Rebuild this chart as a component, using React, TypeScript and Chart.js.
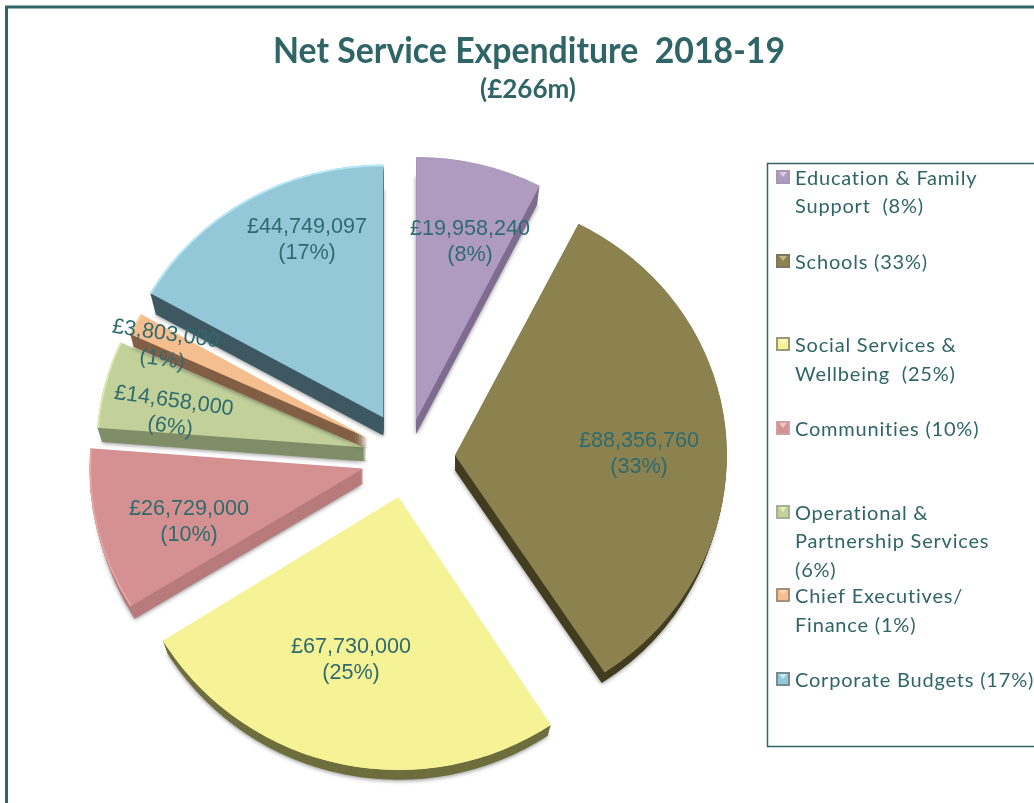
import React, { useEffect, useRef } from "react";
import { Chart, registerables } from "chart.js";

Chart.register(...registerables);

const titleText = "Net Service Expenditure  2018-19";
const subtitleText = "(£266m)";
const categories = [
  "Education & Family Support",
  "Schools",
  "Social Services & Wellbeing",
  "Communities",
  "Operational & Partnership Services",
  "Chief Executives/ Finance",
  "Corporate Budgets",
];
const values = [19958240, 88356760, 67730000, 26729000, 14658000, 3803000, 44749097];
const valueLabels = ["£19,958,240", "£88,356,760", "£67,730,000", "£26,729,000", "£14,658,000", "£3,803,000", "£44,749,097"];
const percentLabels = ["(8%)", "(33%)", "(25%)", "(10%)", "(6%)", "(1%)", "(17%)"];
const legendLines = [
  ["Education & Family", "Support  (8%)"],
  ["Schools (33%)"],
  ["Social Services &", "Wellbeing  (25%)"],
  ["Communities (10%)"],
  ["Operational &", "Partnership Services", "(6%)"],
  ["Chief Executives/", "Finance (1%)"],
  ["Corporate Budgets (17%)"],
];
const faceColors = ["#AE9BBF", "#8C8250", "#F5F396", "#D59192", "#C2D199", "#F5BE8E", "#94C8D9"];
const sideColors = ["#7F6C91", "#433D20", "#6E6E3E", "#B87B7B", "#7F8E68", "#825F45", "#3F5963"];
const rimColors = ["#AE9BBF", "#8C8250", "#F5F396", "#E8A9A9", "#DDEBB2", "#FBD5AE", "#B6ECF8"];
const markerLight = ["#D8CCE4", "#C4B886", "#FBFAC8", "#F0C4C4", "#E2EFB6", "#FBD5AE", "#C4EEF8"];
const explode = [39, 48, 40, 45, 42, 44, 47];
const radiusX = [272, 272, 277, 274, 270, 261, 268];
const radiusY = [263, 260, 273, 262, 256, 253, 253];
const sideDepth = [14, 15, 15, 15, 14, 11, 18];
const drawOrder = [2, 1, 3, 4, 5, 6, 0];

const labelAnchors = [[470, 242], [639, 454], [351, 660], [189, 522], [172, 414], [164, 347], [307, 240]];
const labelTilt = [0, 0, 0, 0, 8, 8, 0];
const legendMarkerY = [178, 262, 345, 429, 513, 596, 680];
const legendLineY = [[179, 207], [263], [346, 375], [430], [514, 542, 571], [597, 626], [681]];

const TEAL = "#2F6567";

const decor = {
  id: "decor",
  beforeDraw(chart: any) {
    const ctx = chart.ctx;
    ctx.save();
    ctx.fillStyle = "#fff";
    ctx.fillRect(0, 0, chart.width, chart.height);
    ctx.strokeStyle = TEAL;
    ctx.lineWidth = 3;
    ctx.strokeRect(6.5, 7, 1200, 1000);
    ctx.fillStyle = TEAL;
    ctx.textAlign = "center";
    ctx.textBaseline = "middle";
    ctx.font = "bold 37px Lato";
    ctx.fillText(titleText, 529, 51, 512);
    ctx.font = "bold 26px Lato";
    ctx.fillText(subtitleText, 528, 90, 98);
    ctx.lineWidth = 1.5;
    ctx.strokeRect(767.5, 163.5, 400, 583);
    ctx.textAlign = "left";
    ctx.font = "20px Lato";
    (ctx as any).letterSpacing = "0.8px";
    legendLines.forEach((lines, i) => {
      const my = legendMarkerY[i];
      ctx.globalAlpha = 0.7;
      ctx.fillStyle = sideColors[i];
      ctx.fillRect(776, my - 8, 14, 14);
      ctx.globalAlpha = 1;
      ctx.fillStyle = faceColors[i];
      ctx.fillRect(778, my - 6, 10, 10);
      ctx.fillStyle = markerLight[i];
      ctx.beginPath();
      ctx.moveTo(779, my - 6);
      ctx.lineTo(787, my - 6);
      ctx.lineTo(783, my - 1);
      ctx.closePath();
      ctx.fill();
      ctx.fillStyle = TEAL;
      lines.forEach((line, j) => ctx.fillText(line, 795, legendLineY[i][j]));
    });
    (ctx as any).letterSpacing = "0px";
    ctx.restore();
  },
  beforeDatasetDraw(chart: any) {
    const ctx = chart.ctx;
    const arcs = chart.getDatasetMeta(0).data;
    const path = (el: any, i: number, dy: number) => {
      const mid = (el.startAngle + el.endAngle) / 2;
      const off = el.options.offset;
      const cx = el.x + Math.cos(mid) * off;
      const cy = el.y + Math.sin(mid) * off + dy;
      const shrink = dy * 0.35;
      ctx.beginPath();
      ctx.moveTo(cx, cy);
      ctx.ellipse(cx, cy, radiusX[i] - shrink, radiusY[i] - shrink, 0, el.startAngle, el.endAngle);
      ctx.closePath();
      return { cx, cy };
    };
    drawOrder.forEach((i) => {
      const el = arcs[i];
      const depth = sideDepth[i];
      ctx.save();
      ctx.fillStyle = sideColors[i];
      ctx.shadowColor = "rgba(0,0,0,0.45)";
      ctx.shadowBlur = 4;
      ctx.shadowOffsetX = 0;
      ctx.shadowOffsetY = 1;
      path(el, i, depth);
      ctx.fill();
      ctx.shadowColor = "transparent";
      for (let d = depth - 1; d > 0; d--) {
        path(el, i, d);
        ctx.fill();
      }
      const { cx, cy } = path(el, i, 0);
      ctx.fillStyle = faceColors[i];
      ctx.fill();
      ctx.strokeStyle = rimColors[i];
      ctx.lineWidth = 1.5;
      ctx.beginPath();
      ctx.ellipse(cx, cy, radiusX[i] - 1, radiusY[i] - 1, 0, el.startAngle, el.endAngle);
      ctx.stroke();
      ctx.restore();
    });
    return false;
  },
  afterDatasetsDraw(chart: any) {
    const ctx = chart.ctx;
    ctx.save();
    ctx.fillStyle = "#2F6B6E";
    ctx.textAlign = "center";
    ctx.textBaseline = "middle";
    ctx.font = "21.6px 'Liberation Sans'";
    valueLabels.forEach((label, i) => {
      const [ax, ay] = labelAnchors[i];
      ctx.save();
      ctx.translate(ax, ay);
      ctx.rotate((labelTilt[i] * Math.PI) / 180);
      ctx.fillText(label, 0, -13);
      ctx.fillText(percentLabels[i], 0, 13);
      ctx.restore();
    });
    ctx.restore();
  },
};

export default function App() {
  const ref = useRef<HTMLCanvasElement>(null);
  useEffect(() => {
    const chart = new Chart(ref.current as HTMLCanvasElement, {
      type: "pie",
      data: {
        labels: categories,
        datasets: [
          {
            data: values,
            backgroundColor: faceColors,
            borderWidth: 0,
            offset: explode,
          } as any,
        ],
      },
      options: {
        responsive: false,
        animation: false,
        radius: 268,
        layout: { padding: { left: 0, right: 220, top: 113, bottom: 0 } },
        plugins: { legend: { display: false }, title: { display: false }, tooltip: { enabled: false } },
      } as any,
      plugins: [decor],
    });
    return () => chart.destroy();
  }, []);
  return (
    <canvas
      ref={ref}
      width={1034}
      height={803}
      style={{ position: "fixed", left: 0, top: 0, display: "block" }}
    />
  );
}
